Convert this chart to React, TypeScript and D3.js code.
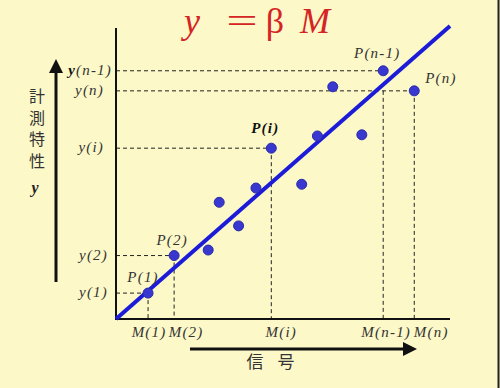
import React from "react";
import * as d3 from "d3";

// data (signal M, measured y) in arbitrary units
const pointsM = [9.6, 17.4, 27.6, 30.9, 36.7, 41.9, 46.5, 55.6, 60.3, 73.6, 64.9, 80.0, 89.3];
const pointsY = [8.9, 21.8, 23.7, 40.1, 32.0, 45.0, 58.7, 46.3, 62.9, 63.3, 79.8, 85.3, 78.4];
const beta = 1.007;
const lineEndM = 100;

// labelled points: index into arrays, label text
const labelledIdx = [0, 1, 6, 11, 12];
const pLabels = ["P(1)", "P(2)", "P(i)", "P(n-1)", "P(n)"];
const yLabels = ["y(1)", "y(2)", "y(i)", "y(n-1)", "y(n)"];
const mLabels = ["M(1)", "M(2)", "M(i)", "M(n-1)", "M(n)"];

const W = 500, H = 388;

export default function App() {
  const x = d3.scaleLinear().domain([0, 100]).range([116, 450]);
  const y = d3.scaleLinear().domain([0, 100]).range([319, 28]);
  const x0 = x(0), y0 = y(0);
  const serif = "'Liberation Serif', 'DejaVu Serif', serif";
  const cjk = "'Noto Sans CJK JP', 'Noto Sans CJK SC', sans-serif";
  const line = d3.line<[number, number]>().x(d => x(d[0])).y(d => y(d[1]));

  // offsets for point labels (dx, dy) relative to point, and anchor
  const pOff: [number, number, string][] = [
    [-5, -11, "middle"],
    [-2, -11, "middle"],
    [-6, -15, "middle"],
    [-6, -13, "middle"],
    [11, -8, "start"],
  ];
  const yEnd = [108, 108, 104, 112, 104];
  const mDx = [1, 12, 10, 3, 17];
  const iN = 12, iN1 = 11;
  const ls = 1.2;

  return (
    <svg width={W} height={H} style={{ position: "absolute", left: 0, top: 0 }}>
      <rect width={W} height={H} fill="#fcf8c8" />
      <line x1={498.5} y1={0} x2={498.5} y2={H} stroke="#222" strokeWidth={2} />
      {/* title */}
      <g fill="#d42424" fontFamily={serif} fontSize={36}>
        <text x={192} y={33} textAnchor="middle" fontStyle="italic">y</text>
        <text transform="translate(242,33) scale(1.55,1)" textAnchor="middle">=</text>
        <text x={275} y={33} textAnchor="middle">β</text>
        <text x={315} y={33} textAnchor="middle" fontStyle="italic">M</text>
      </g>

      {/* dashed guides */}
      <g stroke="#222" strokeWidth={1} strokeDasharray="4,3" fill="none">
        {labelledIdx.map((k, i) => (
          <g key={i}>
            <line x1={x0} x2={x(pointsM[k])} y1={y(pointsY[k])} y2={y(pointsY[k])} />
            <line
              x1={x(pointsM[k])}
              x2={x(pointsM[k])}
              y1={k === iN1 ? y(pointsY[iN]) : y(pointsY[k])}
              y2={y0}
            />
          </g>
        ))}
      </g>

      {/* axes */}
      <line x1={x0} y1={y(100)} x2={x0} y2={y0 + 1} stroke="#111" strokeWidth={2} />
      <line x1={x0} y1={y0} x2={x(100)} y2={y0} stroke="#111" strokeWidth={2} />

      {/* regression line */}
      <path d={line([[0, 0], [lineEndM, beta * lineEndM]]) || ""} stroke="#1c1cd8" strokeWidth={4} fill="none" />

      {/* points */}
      {pointsM.map((m, i) => (
        <circle key={i} cx={x(m)} cy={y(pointsY[i])} r={5} fill="#3838d0" stroke="#2a2aa8" strokeWidth={1} />
      ))}

      {/* point labels */}
      {labelledIdx.map((k, i) => (
        <text
          key={i}
          x={x(pointsM[k]) + pOff[i][0]}
          y={y(pointsY[k]) + pOff[i][1]}
          textAnchor={pOff[i][2] as any}
          fontFamily={serif}
          fontStyle="italic"
          fontSize={15}
          letterSpacing={ls}
          fontWeight={i === 2 ? "bold" : "normal"}
          fill={i === 2 ? "#111" : "#333"}
        >
          {pLabels[i]}
        </text>
      ))}

      {/* y labels */}
      {labelledIdx.map((k, i) => (
        <text
          key={i}
          x={yEnd[i]}
          y={y(pointsY[k]) + 4}
          textAnchor="end"
          fontFamily={serif}
          fontStyle="italic"
          fontSize={15}
          letterSpacing={ls}
          fill="#333"
        >
          {i === 3 ? (
            <>
              <tspan fontWeight="bold" fill="#111">y</tspan>(n-1)
            </>
          ) : (
            yLabels[i]
          )}
        </text>
      ))}

      {/* M labels */}
      {labelledIdx.map((k, i) => (
        <text
          key={i}
          x={x(pointsM[k]) + mDx[i]}
          y={y0 + 18}
          textAnchor="middle"
          fontFamily={serif}
          fontStyle="italic"
          fontSize={15}
          letterSpacing={ls}
          fill="#333"
        >
          {mLabels[i]}
        </text>
      ))}

      {/* left arrow & label */}
      <line x1={56} y1={282} x2={56} y2={70} stroke="#111" strokeWidth={3} />
      <polygon points="56,59 49,73 63,73" fill="#111" />
      {["計", "測", "特", "性"].map((c, i) => (
        <text key={c} x={37} y={102 + i * 21.7} textAnchor="middle" fontFamily={cjk} fontSize={16} fill="#333">
          {c}
        </text>
      ))}
      <text x={35} y={193} textAnchor="middle" fontFamily={serif} fontStyle="italic" fontWeight="bold" fontSize={16} fill="#222">
        y
      </text>

      {/* bottom arrow & label */}
      <line x1={190} y1={349} x2={405} y2={349} stroke="#111" strokeWidth={3} />
      <polygon points="417,349 403,342 403,356" fill="#111" />
      <text x={255} y={368} textAnchor="middle" fontFamily={cjk} fontSize={17} fill="#333">信</text>
      <text x={286} y={368} textAnchor="middle" fontFamily={cjk} fontSize={17} fill="#333">号</text>
    </svg>
  );
}
